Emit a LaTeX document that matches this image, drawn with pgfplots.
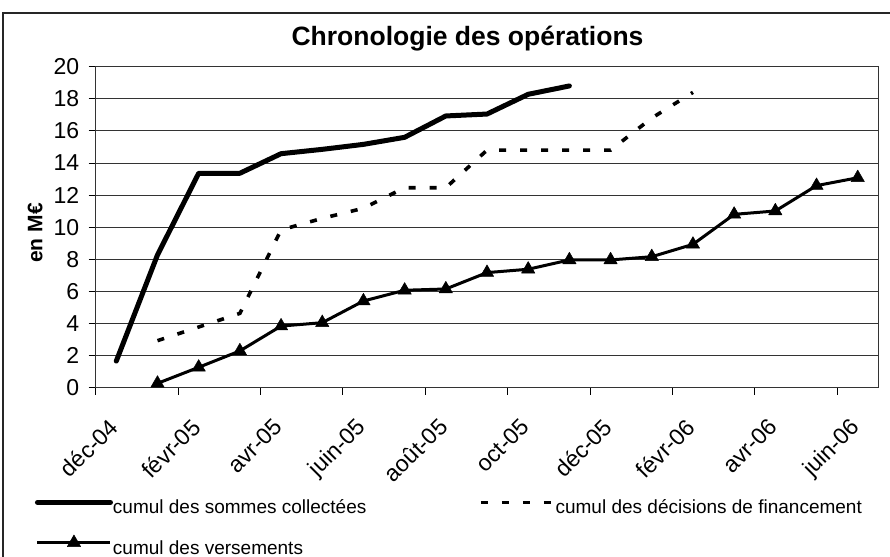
\documentclass[border=0pt]{standalone}
\usepackage{fontspec}
\setmainfont{Liberation Sans}
\usepackage{pgfplots}
\pgfplotsset{compat=1.18}
\begin{document}
\begin{tikzpicture}[x=1bp,y=1bp]
\useasboundingbox (0,0) rectangle (890,557);
\draw[line width=1.2bp, black!85] (3,-5) -- (3,544) -- (895,544);
\node[font=\bfseries\fontsize{26.5bp}{30bp}\selectfont, anchor=base] at (467.5,511) {Chronologie des opérations};
\begin{axis}[
  at={(95.7bp,169.3bp)}, anchor=south west,
  scale only axis, width=782.6bp, height=321bp,
  xmin=0, xmax=19, ymin=0, ymax=20,
  xtick={0,2,...,18},
  xticklabels={déc-04,févr-05,avr-05,juin-05,août-05,oct-05,déc-05,févr-06,avr-06,juin-06},
  ytick={0,2,...,20},
  xtick pos=bottom, ytick pos=left,
  tick align=outside, major tick length=7bp,
  tick style={black, line width=0.9bp},
  ymajorgrids, major grid style={black!80, line width=0.9bp},
  axis line style={black!80, line width=1bp},
  /pgf/number format/assume math mode=true,
  tick label style={font=\fontsize{23bp}{26bp}\selectfont},
  yticklabel style={xshift=-6bp},
  xticklabel style={xshift=12bp, yshift=-22bp, rotate=45, anchor=north east, inner sep=0pt},
  ylabel={\bfseries\fontsize{21bp}{24bp}\selectfont en M€},
  ylabel style={at={(axis description cs:-0.0775,0.482)}, anchor=center},
  legend style={draw=none, fill=none, at={(-0.0776,-0.3495)}, anchor=north west,
    inner sep=0pt, outer sep=0pt, font=\fontsize{19bp}{22bp}\selectfont,
    column sep=0bp, row sep=17bp,
    nodes={inner sep=0pt, text height=14bp, text depth=4bp},
    /tikz/every even column/.append style={column sep=112.6bp}},
  legend columns=2,
  legend cell align=left,
  legend image code/.code={\draw[mark repeat=2,mark phase=2,#1] plot coordinates {(0bp,6.6bp) (36.5bp,6.6bp) (73bp,6.6bp)};},
]
\addplot[black, line width=5bp, line cap=round, line join=round, mark=none] coordinates {
(0.5,1.66) (1.5,8.27) (2.5,13.36) (3.5,13.36) (4.5,14.58) (5.5,14.85) (6.5,15.16)
(7.5,15.6) (8.5,16.93) (9.5,17.05) (10.5,18.28) (11.5,18.8)};
\addlegendentry{cumul des sommes collectées}
\addplot[black, line width=3.6bp, dash pattern=on 7bp off 14bp, mark=none] coordinates {
(1.5,2.93) (2.5,3.78) (3.5,4.63) (4.5,9.83) (5.5,10.55) (6.5,11.18) (7.5,12.46)
(8.5,12.46) (9.5,14.8) (10.5,14.8) (11.5,14.8) (12.5,14.8) (13.5,16.8) (14.5,18.4)};
\addlegendentry{cumul des décisions de financement}
\addplot[black, line width=3bp, line join=round, mark=triangle*, mark size=7.7bp,
  mark options={solid, fill=black, line width=0.5bp}] coordinates {
(1.5,0.27) (2.5,1.27) (3.5,2.29) (4.5,3.84) (5.5,4.05) (6.5,5.4) (7.5,6.07)
(8.5,6.15) (9.5,7.17) (10.5,7.38) (11.5,7.96) (12.5,7.96) (13.5,8.16) (14.5,8.93)
(15.5,10.8) (16.5,11.01) (17.5,12.59) (18.5,13.08)};
\addlegendentry{cumul des versements}
\end{axis}
\end{tikzpicture}
\end{document}
